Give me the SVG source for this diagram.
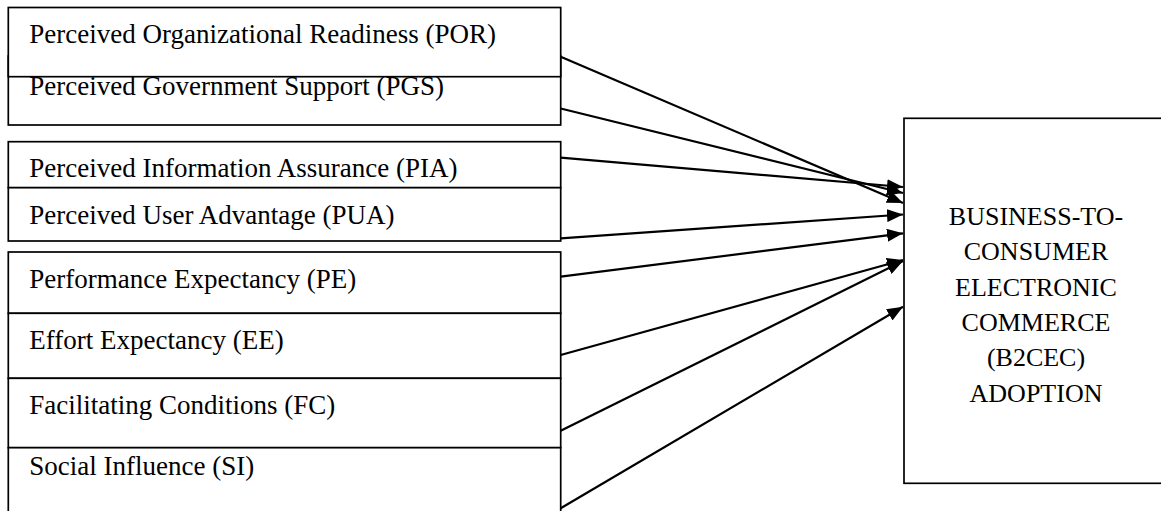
<svg xmlns="http://www.w3.org/2000/svg" width="1161" height="511" viewBox="0 0 1161 511">
<style>
.box{fill:#fff;stroke:#000;stroke-width:1.7}
.t{font-family:"Liberation Serif","Times New Roman",serif;font-size:27px;fill:#000}
.r{font-family:"Liberation Serif","Times New Roman",serif;font-size:26px;fill:#000}
.c{fill:none;stroke:#000;stroke-width:2.2;marker-end:url(#ah)}
</style>
<defs>
<marker id="ah" viewBox="0 0 16 13" refX="16" refY="6.5" markerWidth="16" markerHeight="13" markerUnits="userSpaceOnUse" orient="auto">
<path d="M0,0 L16,6.5 L0,13 z" fill="#000"/>
</marker>
</defs>
<rect width="1161" height="511" fill="#fff"/>
<g id="PGS"><rect class="box" x="8.3" y="56" width="552.4" height="69"/><text class="t" x="29.3" y="94.5">Perceived Government Support (PGS)</text></g>
<g id="POR"><rect class="box" x="8.3" y="7.5" width="552.4" height="69.2"/><text class="t" x="29.3" y="43.3">Perceived Organizational Readiness (POR)</text></g>
<g id="PIA"><rect class="box" x="8.3" y="141.7" width="552.4" height="46"/><text class="t" x="29.3" y="176.5">Perceived Information Assurance (PIA)</text></g>
<g id="PUA"><rect class="box" x="8.3" y="187.7" width="552.4" height="53.3"/><text class="t" x="29.3" y="224">Perceived User Advantage (PUA)</text></g>
<g id="PE"><rect class="box" x="8.3" y="252" width="552.4" height="61.3"/><text class="t" x="29.3" y="288">Performance Expectancy (PE)</text></g>
<g id="EE"><rect class="box" x="8.3" y="313.3" width="552.4" height="65"/><text class="t" x="29.3" y="349">Effort Expectancy (EE)</text></g>
<g id="FC"><rect class="box" x="8.3" y="378.3" width="552.4" height="69.4"/><text class="t" x="29.3" y="414">Facilitating Conditions (FC)</text></g>
<g id="SI"><rect class="box" x="8.3" y="447.7" width="552.4" height="70"/><text class="t" x="29.3" y="475">Social Influence (SI)</text></g>
<g id="B2CEC"><rect class="box" x="904" y="118.3" width="300" height="365"/>
<text class="r" text-anchor="middle"><tspan x="1036" y="225">BUSINESS-TO-</tspan><tspan x="1036" y="260.3">CONSUMER</tspan><tspan x="1036" y="295.6">ELECTRONIC</tspan><tspan x="1036" y="330.9">COMMERCE</tspan><tspan x="1036" y="366.2">(B2CEC)</tspan><tspan x="1036" y="401.5">ADOPTION</tspan></text></g>
<g id="connectors">
<line class="c" x1="560.7" y1="56.7" x2="903" y2="203"/>
<line class="c" x1="560.7" y1="108.5" x2="903" y2="193"/>
<line class="c" x1="560.7" y1="157.7" x2="903" y2="187"/>
<line class="c" x1="560.7" y1="238.3" x2="903" y2="214.5"/>
<line class="c" x1="560.7" y1="276.7" x2="903" y2="233.3"/>
<line class="c" x1="560.7" y1="355" x2="903" y2="260"/>
<line class="c" x1="560.7" y1="430.7" x2="903" y2="261"/>
<line class="c" x1="560.7" y1="508.3" x2="903" y2="306.7"/>
</g>
</svg>
